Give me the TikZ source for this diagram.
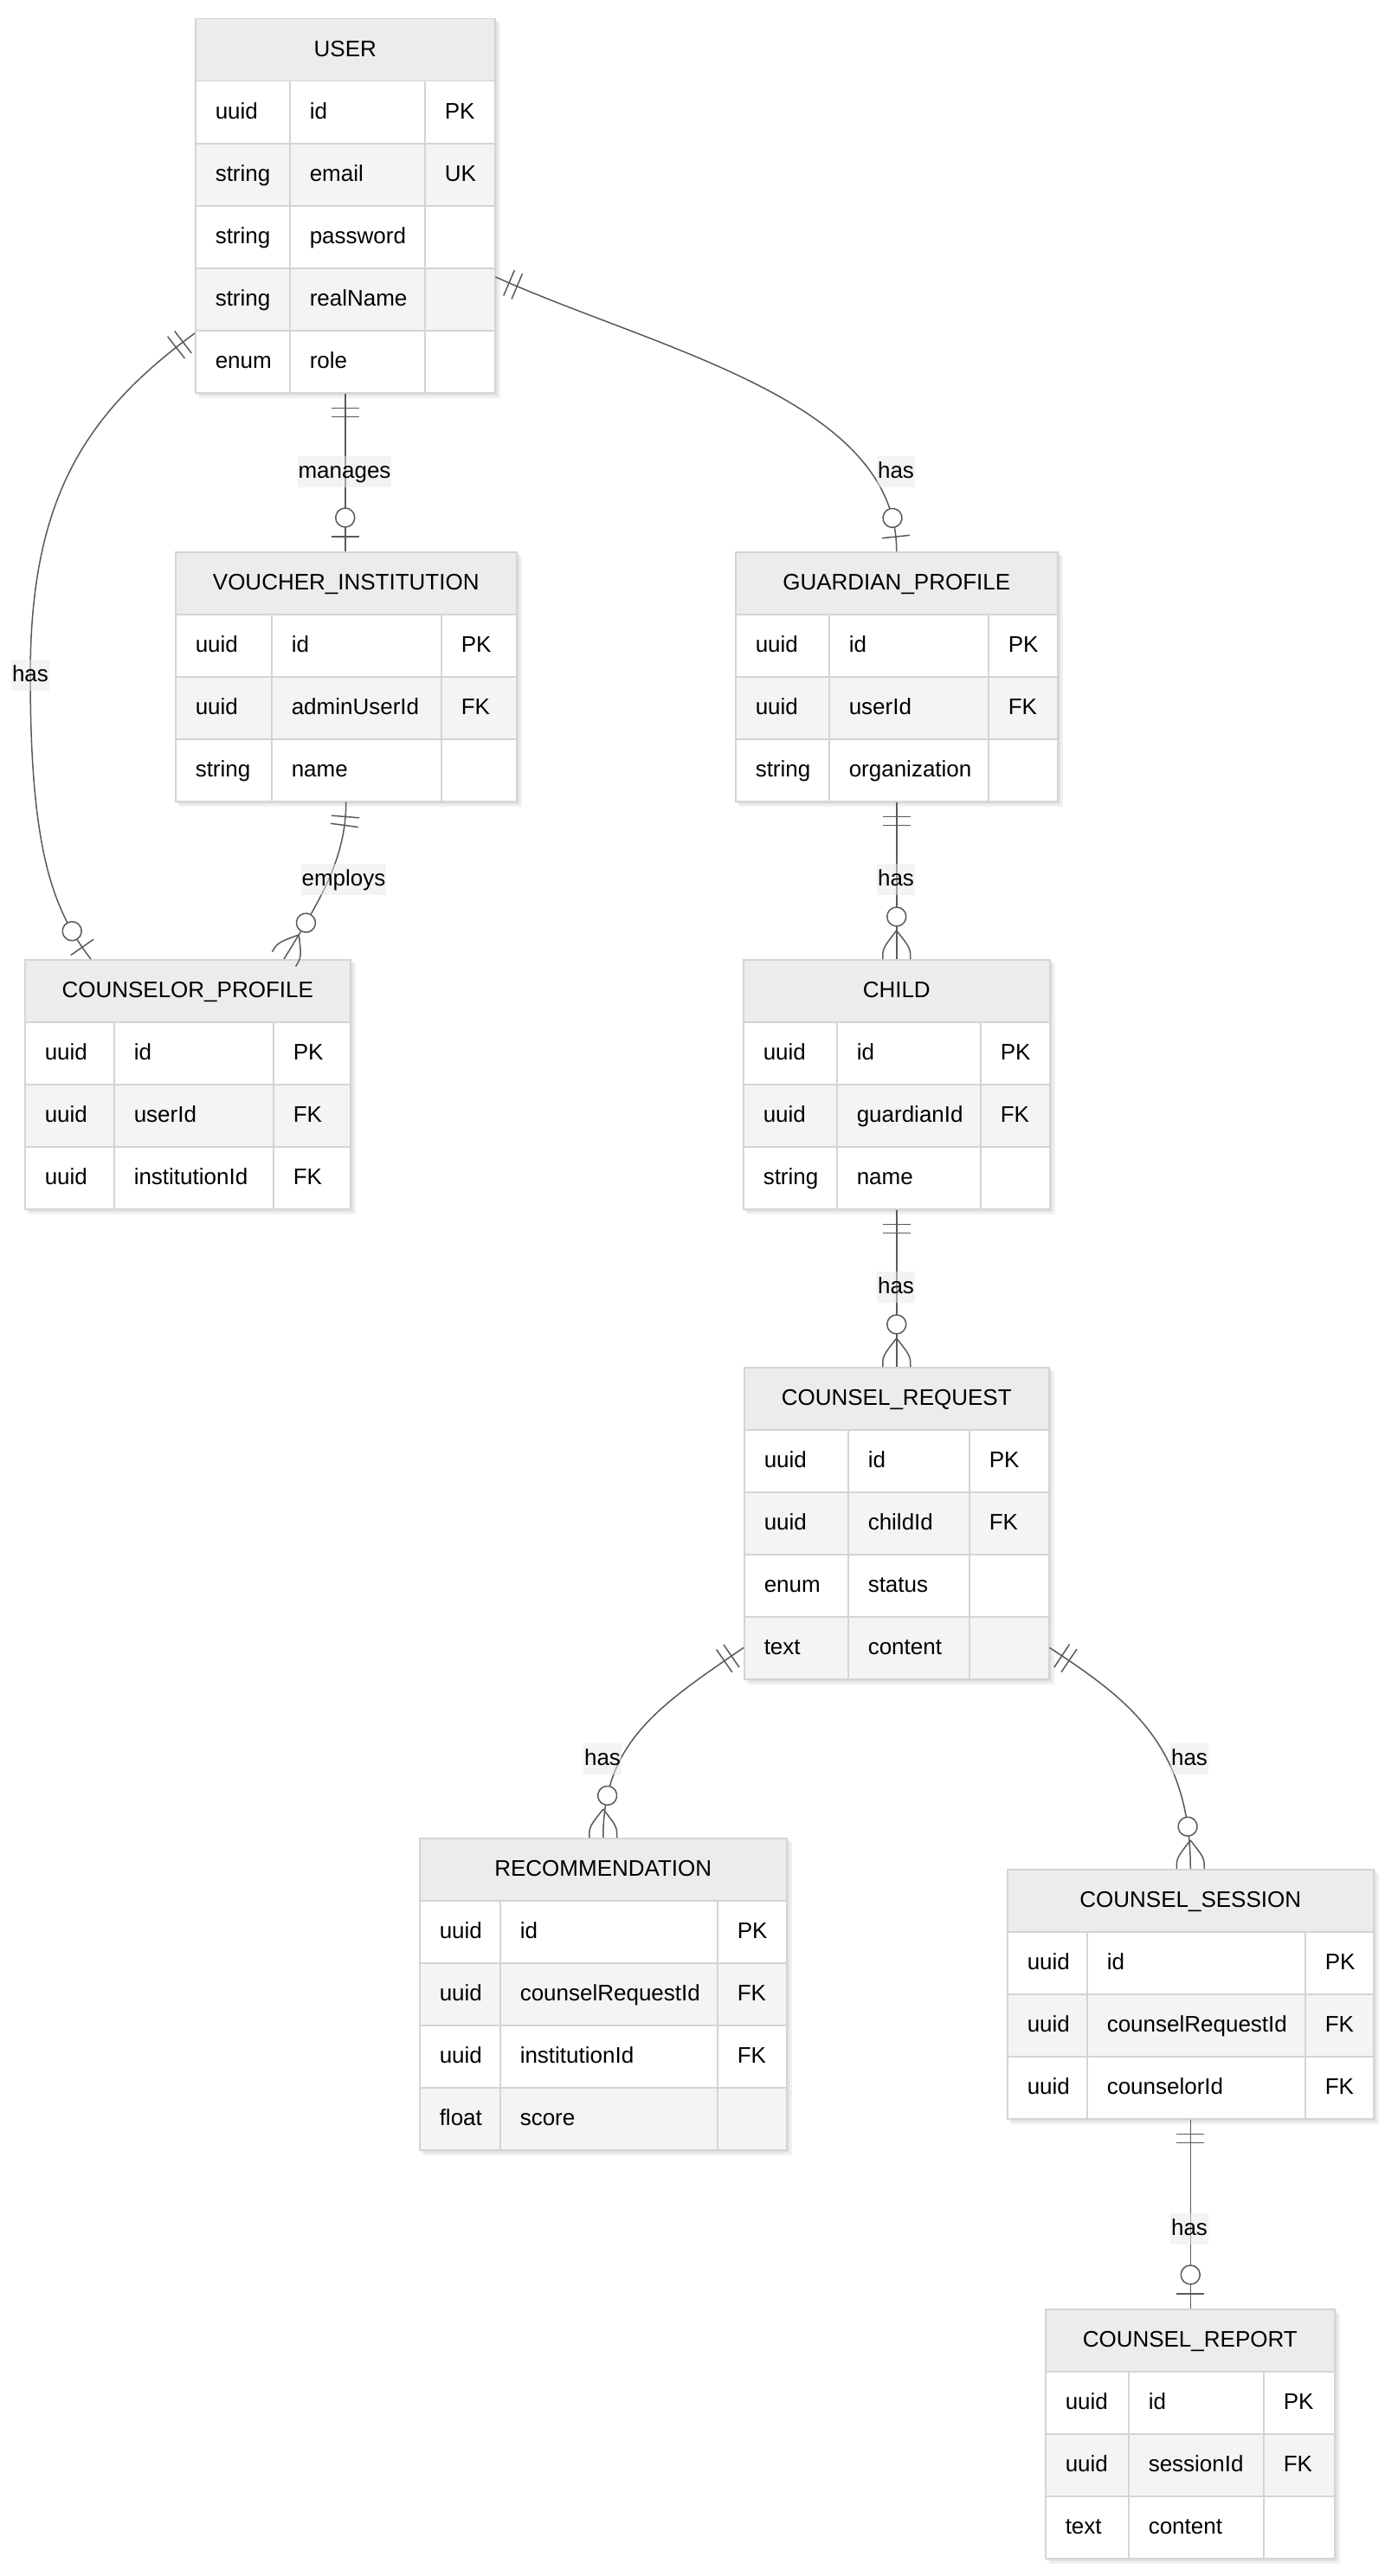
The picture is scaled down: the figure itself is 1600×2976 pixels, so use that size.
\documentclass[tikz,border=0pt]{standalone}
\usepackage{fontspec}
\setmainfont{Liberation Sans}
\usetikzlibrary{calc, backgrounds, decorations.markings}
\definecolor{erHead}{HTML}{ECECEC}
\definecolor{erAlt}{HTML}{F4F4F4}
\definecolor{erLine}{HTML}{D4D4D4}
\definecolor{erRel}{HTML}{5A5A5A}
\definecolor{erLabel}{HTML}{E8E8E8}
\newcommand{\erFont}{\fontsize{26}{31}\selectfont}

% entity table: name, x, y, three column widths, title, rows
\newcommand{\erEntity}[8]{%
  \pgfmathsetmacro{\erW}{#4+#5+#6}%
  \pgfmathsetmacro{\erTa}{#4-46}%
  \pgfmathsetmacro{\erTb}{#5-46}%
  \pgfmathsetmacro{\erTc}{#6-46}%
  \node[entity head, minimum width=\erW pt] (#1-head) at (#2,#3) {#7};
  \foreach \ty/\nm/\ky [count=\i] in {#8} {
    \ifodd\i\relax \def\erFill{white}\else \def\erFill{erAlt}\fi
    \node[attr cell, fill=\erFill, text width=\erTa pt] (#1-\i-type) at ({#2}, {#3+72*\i}) {\ty};
    \node[attr cell, fill=\erFill, text width=\erTb pt] (#1-\i-name) at ({#2+#4}, {#3+72*\i}) {\nm};
    \node[attr cell, fill=\erFill, text width=\erTc pt] (#1-\i-key) at ({#2+#4+#5}, {#3+72*\i}) {\ky};
    \xdef\erRows{\i}
  }
  \pgfmathsetmacro{\erH}{72*(\erRows+1)}%
  \node[entity frame, minimum width=\erW pt, minimum height=\erH pt] (#1) at (#2,#3) {};
  \begin{scope}[on background layer]
    \fill[entity shade] ($(#1.north west)+(5,5)$) rectangle ($(#1.south east)+(5,5)$);
    \fill[entity shade] ($(#1.north west)+(2,2)$) rectangle ($(#1.south east)+(2,2)$);
  \end{scope}
}

\begin{document}
\begin{tikzpicture}[
    x=1pt, y=-1pt,
    entity head/.style={
        anchor=north west, draw=erLine, line width=1.5pt, fill=erHead,
        minimum height=72pt, inner sep=0pt, font=\erFont,
        text height=20pt, text depth=4pt
    },
    attr cell/.style={
        anchor=north west, draw=erLine, line width=1.5pt, minimum height=72pt,
        inner xsep=23pt, inner ysep=0pt, align=left, font=\erFont,
        text height=20pt, text depth=4pt
    },
    entity frame/.style={anchor=north west, draw=erLine, line width=1.5pt, inner sep=0pt},
    entity shade/.style={black, opacity=0.06},
    rel/.style={draw=erRel, line width=1.5pt},
    rel tick/.style={draw=erRel, line width=1.5pt},
    rel label/.style={
        fill=erLabel, fill opacity=0.5, text opacity=1, inner xsep=1pt, inner ysep=0pt,
        minimum height=36pt, text height=20pt, text depth=5pt, font=\erFont
    },
    one start/.style={postaction={decorate, decoration={markings,
        mark=at position 17pt with {\draw[rel tick] (0pt,-16pt) -- (0pt,16pt);},
        mark=at position 27pt with {\draw[rel tick] (0pt,-16pt) -- (0pt,16pt);}}}},
    zero one end/.style={postaction={decorate, decoration={markings,
        mark=at position -39pt with {\draw[rel tick, fill=white] (0pt,0pt) circle[radius=11pt];},
        mark=at position -17pt with {\draw[rel tick] (0pt,-16pt) -- (0pt,16pt);}}}},
    zero many end/.style={postaction={decorate, decoration={markings,
        mark=at position -49pt with {\draw[rel tick, fill=white] (0pt,0pt) circle[radius=11pt];},
        mark=at position -0.5pt with {\draw[rel tick]
            (-32.5pt,0pt) .. controls (-12pt,16pt) .. (0.5pt,16pt)
            (-32.5pt,0pt) .. controls (-12pt,-16pt) .. (0.5pt,-16pt);}}}},
]
    \begin{scope}[on background layer]
        \fill[white] (0,0) rectangle (1600,2976);
    \end{scope}
    \path[use as bounding box] (0,0) rectangle (1600,2976);

    % entities
    \erEntity{user}{225}{21}{109}{156}{81}{USER}
        {uuid/id/PK, string/email/UK, string/password/{}, string/realName/{}, enum/role/{}}
    \erEntity{vi}{202}{637}{111}{196}{87}{VOUCHER\_INSTITUTION}
        {uuid/id/PK, uuid/adminUserId/FK, string/name/{}}
    \erEntity{gp}{849}{637}{108}{184}{80}{GUARDIAN\_PROFILE}
        {uuid/id/PK, uuid/userId/FK, string/organization/{}}
    \erEntity{cp}{28}{1108}{103}{184}{89}{COUNSELOR\_PROFILE}
        {uuid/id/PK, uuid/userId/FK, uuid/institutionId/FK}
    \erEntity{child}{858}{1108}{108}{166}{80}{CHILD}
        {uuid/id/PK, uuid/guardianId/FK, string/name/{}}
    \erEntity{cr}{859}{1579}{120}{140}{92}{COUNSEL\_REQUEST}
        {uuid/id/PK, uuid/childId/FK, enum/status/{}, text/content/{}}
    \erEntity{rec}{484}{2123}{93}{251}{80}{RECOMMENDATION}
        {uuid/id/PK, uuid/counselRequestId/FK, uuid/institutionId/FK, float/score/{}}
    \erEntity{cs}{1163}{2159}{92}{252}{79}{COUNSEL\_SESSION}
        {uuid/id/PK, uuid/counselRequestId/FK, uuid/counselorId/FK}
    \erEntity{crpt}{1207}{2667}{96}{156}{82}{COUNSEL\_REPORT}
        {uuid/id/PK, uuid/sessionId/FK, text/content/{}}

    % relationships
    \draw[rel, one start, zero one end] (user.south) -- (user.south |- vi.north);
    \draw[rel, one start, zero one end] ($(user.north east)+(0,299)$)
        .. controls +(190,85) and +(0,-175) .. (gp.north);
    \coordinate (counselorBend) at (35,780);
    \draw[rel, one start, zero one end] ($(user.north west)+(0,364)$)
        .. controls +(-130,95) and +(0,-200) .. (counselorBend)
        .. controls +(0,200) and +(-45,-58) .. ($(cp.north west)+(77,0)$);
    \draw[rel, one start, zero many end] (vi.south)
        .. controls +(0,65) and +(42,-68) .. ($(cp.north west)+(300,0)$);
    \draw[rel, one start, zero many end] (gp.south) -- (gp.south |- child.north);
    \draw[rel, one start, zero many end] (child.south) -- (child.south |- cr.north);
    \draw[rel, one start, zero many end] ($(cr.south west)+(0,-37)$)
        .. controls +(-99,68) and +(0,-110) .. (rec.north);
    \draw[rel, one start, zero many end] ($(cr.south east)+(0,-37)$)
        .. controls +(88,58) and +(0,-145) .. (cs.north);
    \draw[rel, one start, zero one end] (cs.south) -- (cs.south |- crpt.north);

    % relationship labels
    \node[rel label] (lblManages) at (398,545) {manages};
    \node[rel label] (lblUserGuardian) at (1035,545) {has};
    \node[rel label] (lblUserCounselor) at (35,780) {has};
    \node[rel label] (lblEmploys) at (397,1016) {employs};
    \node[rel label] (lblGuardianChild) at (1035,1016) {has};
    \node[rel label] (lblChildRequest) at (1035,1487) {has};
    \node[rel label] (lblRequestRec) at (696,2032) {has};
    \node[rel label] (lblRequestSession) at (1374,2032) {has};
    \node[rel label] (lblSessionReport) at (1374,2575) {has};
\end{tikzpicture}
\end{document}
